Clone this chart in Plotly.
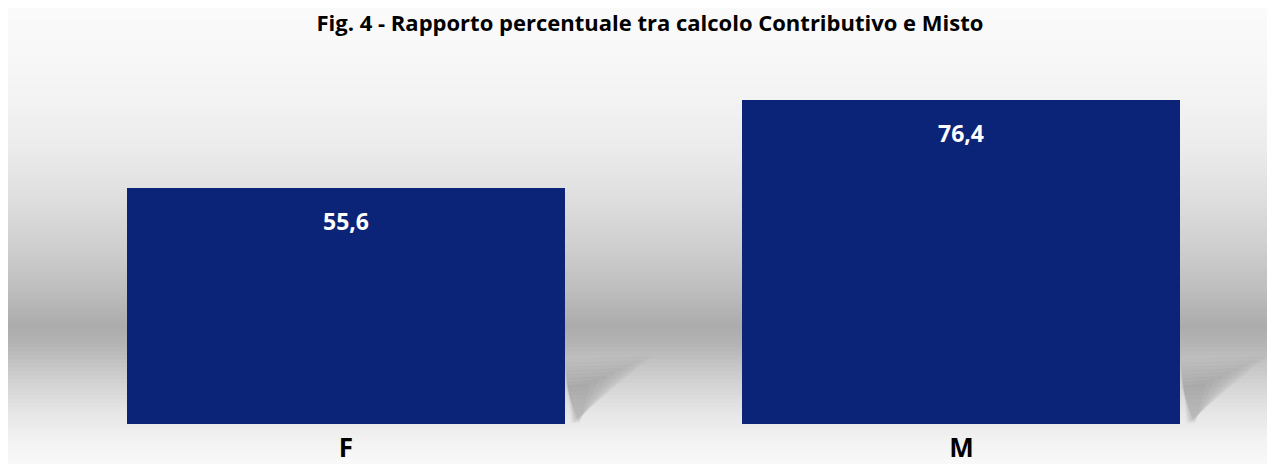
import plotly.graph_objects as go

# ---- data ----
categories = ["F", "M"]
values = [55.6, 76.4]
title_text = "Fig. 4 - Rapporto percentuale tra calcolo Contributivo e Misto"

W, H = 1275, 464
L, R, T, B = 0, 0, 0, 48
plot_h = H - T - B

bar_color = "#0C2478"
bar_width = 0.7116
x_range = [-0.5491, 1.5224]
y_range = [0, 98]

fig = go.Figure()
fig.add_trace(go.Bar(
    x=categories, y=values, width=bar_width,
    marker=dict(color=bar_color, line=dict(width=0)),
    hoverinfo="x+y", showlegend=False,
))

# value labels inside bars near the top
for c, v in zip(categories, values):
    fig.add_annotation(
        x=c, y=v, yshift=-33, showarrow=False,
        text=f"{v:.1f}".replace(".", ","),
        font=dict(family="Open Sans", size=23, color="white", weight="bold"),
        yanchor="middle",
    )

# background vertical grey gradient (decoration), stops in figure pixels
stops = [(0, 250), (42, 248), (92, 243), (142, 235), (192, 222), (242, 206),
         (282, 190), (319, 172), (337, 180), (372, 208), (402, 228),
         (432, 242), (464, 250)]

def grey_at(py):
    for (y0, g0), (y1, g1) in zip(stops[:-1], stops[1:]):
        if y0 <= py <= y1:
            t = (py - y0) / (y1 - y0)
            return g0 + (g1 - g0) * t
    return stops[-1][1]

step = 4
shapes = []
for py in range(0, H, step):
    g = int(round(grey_at(py + step / 2)))
    y_top = 1 - (py - T) / plot_h
    y_bot = 1 - (py + step - T) / plot_h
    shapes.append(dict(
        type="rect", xref="paper", yref="paper",
        x0=0, x1=1, y0=y_bot, y1=y_top + 0.002,
        fillcolor=f"rgb({g},{g},{g})", line=dict(width=0), layer="below",
    ))

# soft shadows to the right of bars' bottoms (decoration)
for i, v in enumerate(values):
    xr = i + bar_width / 2
    n = 8
    for k in range(n):
        sx = 0.14 - 0.014 * k
        top = 16.0 - 0.9 * k
        shapes.append(dict(
            type="path", xref="x", yref="y", layer="below",
            path=f"M {xr},{top - 0.8} L {xr + sx},{top} L {xr + 0.01 + 0.002 * k},0 Z",
            fillcolor="rgba(70,70,70,0.035)", line=dict(width=0),
        ))

fig.update_layout(
    width=W, height=H,
    margin=dict(l=L, r=R, t=T, b=B),
    paper_bgcolor="white",
    plot_bgcolor="rgba(0,0,0,0)",
    separators=",.",
    shapes=shapes,
    bargap=0,
    title=dict(
        text=title_text, x=0.5035, xanchor="center", y=1 - 8 / H, yanchor="top",
        pad=dict(t=0, b=0),
        font=dict(family="Open Sans", size=22, color="black", weight="bold"),
    ),
    xaxis=dict(
        range=x_range, showgrid=False, zeroline=False, showline=False,
        ticks="", ticklabelstandoff=6,
        tickfont=dict(family="Open Sans", size=26, color="black", weight="bold"),
    ),
    yaxis=dict(range=y_range, visible=False, showgrid=False, zeroline=False),
)

fig.write_html("out.html")
